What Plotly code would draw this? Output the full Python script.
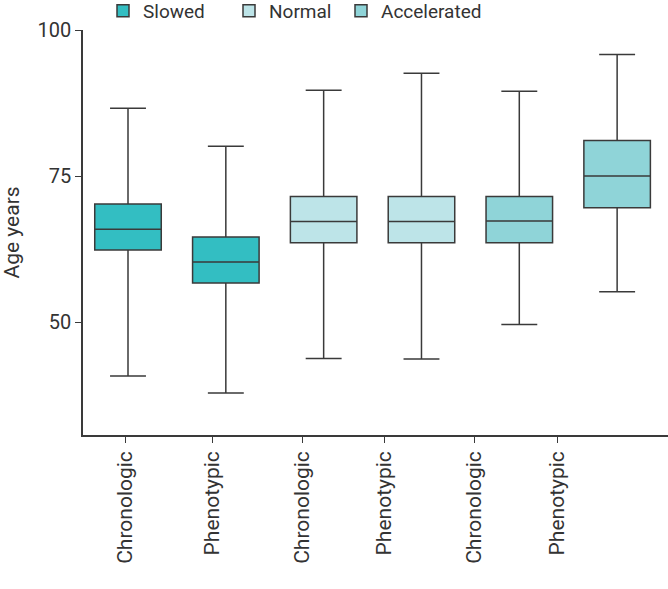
import plotly.graph_objects as go

# ---- data ----
groups = ["Slowed", "Normal", "Accelerated"]
tick_labels = ["Chronologic", "Phenotypic", "Chronologic", "Phenotypic", "Chronologic", "Phenotypic"]
positions = [[0, 1], [2, 3], [4, 5]]
lower = [[40.8, 37.9], [43.8, 43.7], [49.6, 55.2]]
q1 = [[62.35, 56.7], [63.6, 63.6], [63.6, 69.6]]
median = [[65.9, 60.3], [67.25, 67.25], [67.3, 75.0]]
q3 = [[70.24, 64.6], [71.5, 71.5], [71.5, 81.1]]
upper = [[86.6, 80.1], [89.7, 92.6], [89.5, 95.8]]
y_ticks = [50, 75, 100]

# ---- style ----
colors = ["#33BEC2", "#BDE4E8", "#8FD4D8"]
line_col = "#3a3a3a"
tick_pos = [-0.03, 0.86, 1.78, 2.62, 3.54, 4.39]
legend_ids = ["legend", "legend2", "legend3"]
legend_x = [103 / 668, 229 / 668, 341 / 668]
FONT = "Roboto"

fig = go.Figure()
for g, xs, lo, a, m, b, hi, c, lid in zip(groups, positions, lower, q1, median, q3, upper, colors, legend_ids):
    fig.add_trace(go.Box(
        name=g, x=xs, lowerfence=lo, q1=a, median=m, q3=b, upperfence=hi,
        fillcolor=c, line=dict(color=line_col, width=1.5),
        width=0.68, whiskerwidth=0.54, boxpoints=False, hoverinfo="skip",
        legend=lid,
    ))

legend_common = dict(orientation="h", xref="container", yref="container",
                     y=1 - 11 / 589, xanchor="left", yanchor="middle",
                     font=dict(size=19, color="#333333", family=FONT),
                     bgcolor="rgba(0,0,0,0)")

fig.update_layout(
    width=668, height=589,
    margin=dict(l=83, r=0, t=25, b=154),
    plot_bgcolor="white", paper_bgcolor="white",
    font=dict(family=FONT, size=20, color="#333333"),
    boxmode="overlay",
    showlegend=True,
    legend=dict(x=legend_x[0], **legend_common),
    legend2=dict(x=legend_x[1], **legend_common),
    legend3=dict(x=legend_x[2], **legend_common),
    xaxis=dict(range=[-0.46, 5.52], tickmode="array", tickvals=tick_pos,
               ticktext=tick_labels, tickangle=-90, showline=True, linecolor=line_col,
               linewidth=1.5, ticks="outside", ticklen=6, tickcolor=line_col,
               showgrid=False, zeroline=False, tickfont=dict(size=21),
               automargin=False),
    yaxis=dict(range=[30.7, 100], tickmode="array", tickvals=y_ticks,
               showline=True, linecolor=line_col, linewidth=1.5, ticks="outside",
               ticklen=6, tickcolor=line_col, showgrid=False, zeroline=False,
               title=dict(text="Age years", font=dict(size=21)),
               tickfont=dict(size=20), automargin=False),
)

fig.write_html("out.html", config={"displayModeBar": False},
               post_script="document.body.style.margin='0';")
